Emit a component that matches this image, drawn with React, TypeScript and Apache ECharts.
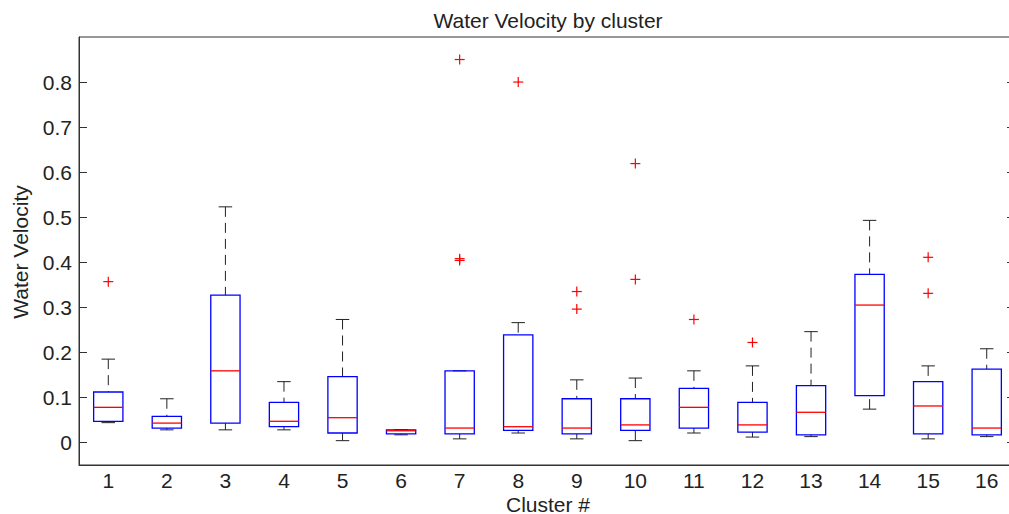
import React, { useEffect, useRef } from 'react';
import * as echarts from 'echarts';

const categories = ['1', '2', '3', '4', '5', '6', '7', '8', '9', '10', '11', '12', '13', '14', '15', '16'];
const lowerWhisker = [0.044, 0.028, 0.028, 0.028, 0.004, 0.017, 0.008, 0.021, 0.008, 0.004, 0.021, 0.012, 0.013, 0.074, 0.008, 0.013];
const q1 = [0.047, 0.032, 0.043, 0.035, 0.021, 0.019, 0.019, 0.027, 0.019, 0.027, 0.032, 0.023, 0.017, 0.104, 0.019, 0.017];
const median = [0.078, 0.043, 0.159, 0.047, 0.055, 0.026, 0.032, 0.035, 0.032, 0.039, 0.078, 0.039, 0.067, 0.305, 0.081, 0.032];
const q3 = [0.112, 0.058, 0.327, 0.089, 0.146, 0.028, 0.159, 0.239, 0.097, 0.097, 0.120, 0.089, 0.126, 0.373, 0.135, 0.163];
const upperWhisker = [0.185, 0.097, 0.523, 0.135, 0.273, 0.028, 0.159, 0.266, 0.139, 0.143, 0.159, 0.170, 0.246, 0.493, 0.170, 0.208];
const outlierCluster = ['1', '7', '7', '7', '8', '9', '9', '10', '10', '11', '12', '15', '15'];
const outlierValue = [0.357, 0.850, 0.404, 0.408, 0.800, 0.335, 0.296, 0.619, 0.362, 0.273, 0.222, 0.411, 0.331];
const yTicks = [0, 0.1, 0.2, 0.3, 0.4, 0.5, 0.6, 0.7, 0.8];

const FONT = '"Liberation Sans", Arial, Helvetica, sans-serif';
const TEXT = '#222';
const FS = 21;

export default function App() {
  const ref = useRef<HTMLDivElement>(null);
  useEffect(() => {
    if (!ref.current) return;
    const chart = echarts.init(ref.current, null, { renderer: 'svg' });
    const boxData = categories.map((c, i) => [i, lowerWhisker[i], q1[i], median[i], q3[i], upperWhisker[i]]);
    const outData = outlierCluster.map((c, i) => [categories.indexOf(c), outlierValue[i]]);
    const option: any = {
      animation: false,
      grid: { left: 79, top: 37, right: 24, bottom: 49, show: true, borderColor: '#333', borderWidth: 1 },
      xAxis: {
        type: 'category',
        data: categories,
        boundaryGap: true,
        axisLine: { show: true, onZero: false, lineStyle: { color: '#333', width: 1 } },
        axisTick: { show: false },
        axisLabel: { fontSize: FS, lineHeight: FS, color: TEXT, fontFamily: FONT, margin: 5 },
        splitLine: { show: false },
      },
      yAxis: [
        {
          type: 'value',
          min: -0.05,
          max: 0.9,
          position: 'left',
          axisLine: { show: true, lineStyle: { color: '#333', width: 1 } },
          axisTick: { show: true, inside: true, length: 8, customValues: yTicks, lineStyle: { color: '#333' } },
          axisLabel: { show: true, customValues: yTicks, fontSize: FS, color: TEXT, fontFamily: FONT, margin: 7, formatter: (v: number) => String(Math.round(v * 10) / 10) },
          splitLine: { show: false },
        },
        {
          type: 'value',
          min: -0.05,
          max: 0.9,
          position: 'right',
          axisLine: { show: true, lineStyle: { color: '#333', width: 1 } },
          axisTick: { show: true, inside: true, length: 9, customValues: yTicks, lineStyle: { color: '#333' } },
          axisLabel: { show: false },
          splitLine: { show: false },
        },
      ],
      series: [
        {
          type: 'custom',
          xAxisIndex: 0,
          yAxisIndex: 0,
          data: boxData,
          encode: { x: 0, y: [1, 2, 3, 4, 5] },
          renderItem: (params: any, api: any) => {
            const x = api.value(0);
            const bw = api.size([1, 0])[0] * 0.5;
            const cw = bw * 0.23;
            const pLow = api.coord([x, api.value(1)]);
            const pQ1 = api.coord([x, api.value(2)]);
            const pMed = api.coord([x, api.value(3)]);
            const pQ3 = api.coord([x, api.value(4)]);
            const pHigh = api.coord([x, api.value(5)]);
            const cx = pLow[0];
            const wStyle = { stroke: '#222', lineWidth: 1, lineDash: [10, 6] };
            const cStyle = { stroke: '#222', lineWidth: 1 };
            return {
              type: 'group',
              children: [
                { type: 'line', shape: { x1: cx, y1: pHigh[1], x2: cx, y2: pQ3[1] }, style: wStyle },
                { type: 'line', shape: { x1: cx, y1: pLow[1], x2: cx, y2: pQ1[1] }, style: wStyle },
                { type: 'line', shape: { x1: cx - cw, y1: pHigh[1], x2: cx + cw, y2: pHigh[1] }, style: cStyle },
                { type: 'line', shape: { x1: cx - cw, y1: pLow[1], x2: cx + cw, y2: pLow[1] }, style: cStyle },
                {
                  type: 'rect',
                  shape: { x: cx - bw / 2, y: pQ3[1], width: bw, height: pQ1[1] - pQ3[1] },
                  style: { fill: 'none', stroke: '#0000ff', lineWidth: 1.3 },
                },
                { type: 'line', shape: { x1: cx - bw / 2, y1: pMed[1], x2: cx + bw / 2, y2: pMed[1] }, style: { stroke: '#ff0000', lineWidth: 1.3 } },
              ],
            };
          },
        },
        {
          type: 'custom',
          xAxisIndex: 0,
          yAxisIndex: 0,
          data: outData,
          encode: { x: 0, y: 1 },
          renderItem: (params: any, api: any) => {
            const p = api.coord([api.value(0), api.value(1)]);
            const s = 5;
            const st = { stroke: '#ff0000', lineWidth: 1.2 };
            return {
              type: 'group',
              children: [
                { type: 'line', shape: { x1: p[0] - s, y1: p[1], x2: p[0] + s, y2: p[1] }, style: st },
                { type: 'line', shape: { x1: p[0], y1: p[1] - s, x2: p[0], y2: p[1] + s }, style: st },
              ],
            };
          },
        },
      ],
      graphic: [
        { type: 'text', x: 548, y: 20, z: 100, style: { text: 'Water Velocity by cluster', fontSize: FS, fill: TEXT, fontFamily: FONT, textAlign: 'center', textVerticalAlign: 'middle' } },
        { type: 'text', x: 548, y: 504, z: 100, style: { text: 'Cluster #', fontSize: FS, lineHeight: FS, fill: TEXT, fontFamily: FONT, textAlign: 'center', textVerticalAlign: 'middle' } },
        { type: 'text', x: 20, y: 252, rotation: Math.PI / 2, z: 100, style: { text: 'Water Velocity', fontSize: FS, fill: TEXT, fontFamily: FONT, textAlign: 'center', textVerticalAlign: 'middle' } },
      ],
    };
    chart.setOption(option);
    return () => chart.dispose();
  }, []);
  return <div ref={ref} style={{ position: 'fixed', left: 0, top: 0, width: 1040, height: 514, background: '#fff' }} />;
}
